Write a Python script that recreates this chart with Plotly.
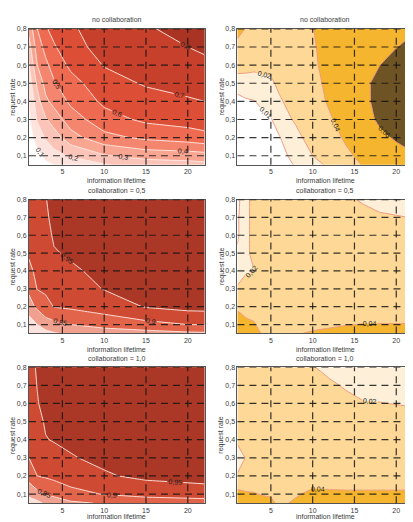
import plotly.graph_objects as go

# ---------------- data ----------------
x_left = [1, 2, 3, 4, 6, 10, 15, 20, 22]
x_right = [1, 2, 3, 4, 5, 6, 8, 10, 12, 14, 16, 18, 20, 22]
y_rate = [0.05, 0.1, 0.2, 0.3, 0.4, 0.5, 0.6, 0.7, 0.8]

x_ticks = [5, 10, 15, 20]
y_ticks = [0.1, 0.2, 0.3, 0.4, 0.5, 0.6, 0.7, 0.8]
y_ticklabels = ["0,1", "0,2", "0,3", "0,4", "0,5", "0,6", "0,7", "0,8"]

titles = ["no collaboration", "collaboration = 0,5", "collaboration = 1,0"]

# left column: one list per x (values at y_rate)
left_no_collab_cols = [
    [0.02, 0.03, 0.05, 0.075, 0.10, 0.145, 0.19, 0.26, 0.33],
    [0.04, 0.07, 0.14, 0.21, 0.26, 0.32, 0.40, 0.45, 0.50],
    [0.08, 0.12, 0.21, 0.29, 0.38, 0.435, 0.478, 0.53, 0.59],
    [0.10, 0.17, 0.25, 0.345, 0.43, 0.49, 0.54, 0.59, 0.63],
    [0.14, 0.21, 0.36, 0.45, 0.52, 0.565, 0.62, 0.66, 0.68],
    [0.19, 0.29, 0.47, 0.56, 0.62, 0.66, 0.705, 0.74, 0.77],
    [0.24, 0.34, 0.52, 0.62, 0.66, 0.71, 0.74, 0.77, 0.79],
    [0.26, 0.35, 0.55, 0.64, 0.69, 0.73, 0.765, 0.80, 0.83],
    [0.27, 0.36, 0.57, 0.65, 0.70, 0.74, 0.78, 0.815, 0.85],
]
left_collab05_cols = [
    [0.70, 0.77, 0.83, 0.86, 0.89, 0.905, 0.915, 0.925, 0.935],
    [0.75, 0.80, 0.86, 0.902, 0.91, 0.92, 0.93, 0.937, 0.944],
    [0.78, 0.83, 0.88, 0.91, 0.92, 0.93, 0.937, 0.944, 0.948],
    [0.795, 0.835, 0.902, 0.917, 0.932, 0.947, 0.955, 0.96, 0.965],
    [0.81, 0.85, 0.908, 0.926, 0.944, 0.955, 0.962, 0.967, 0.972],
    [0.82, 0.87, 0.922, 0.952, 0.96, 0.966, 0.972, 0.976, 0.98],
    [0.83, 0.885, 0.953, 0.962, 0.968, 0.973, 0.977, 0.98, 0.983],
    [0.84, 0.90, 0.965, 0.97, 0.974, 0.977, 0.98, 0.983, 0.986],
    [0.842, 0.902, 0.966, 0.971, 0.975, 0.978, 0.981, 0.984, 0.987],
]
left_collab10_cols = [
    [0.77, 0.815, 0.87, 0.90, 0.91, 0.92, 0.928, 0.935, 0.94],
    [0.785, 0.835, 0.90, 0.912, 0.925, 0.937, 0.948, 0.951, 0.953],
    [0.81, 0.85, 0.906, 0.927, 0.948, 0.955, 0.96, 0.965, 0.97],
    [0.82, 0.863, 0.912, 0.933, 0.953, 0.96, 0.965, 0.97, 0.975],
    [0.84, 0.886, 0.922, 0.947, 0.958, 0.965, 0.97, 0.975, 0.978],
    [0.855, 0.902, 0.945, 0.96, 0.966, 0.971, 0.975, 0.979, 0.982],
    [0.865, 0.918, 0.96, 0.965, 0.97, 0.975, 0.979, 0.982, 0.985],
    [0.87, 0.925, 0.965, 0.968, 0.972, 0.977, 0.981, 0.984, 0.987],
    [0.872, 0.928, 0.967, 0.969, 0.973, 0.978, 0.982, 0.985, 0.988],
]

# right column: one list per x (values at y_rate)
right_no_collab_cols = [
    [0.002, 0.003, 0.004, 0.006, 0.008, 0.013, 0.026, 0.035, 0.046],
    [0.003, 0.004, 0.005, 0.007, 0.009, 0.015, 0.024, 0.031, 0.039],
    [0.003, 0.004, 0.005, 0.007, 0.0097, 0.015, 0.023, 0.028, 0.032],
    [0.003, 0.004, 0.006, 0.008, 0.0118, 0.0169, 0.023, 0.027, 0.031],
    [0.004, 0.005, 0.007, 0.0095, 0.0133, 0.0175, 0.024, 0.028, 0.032],
    [0.005, 0.007, 0.0095, 0.0136, 0.018, 0.023, 0.027, 0.031, 0.035],
    [0.011, 0.013, 0.016, 0.022, 0.027, 0.031, 0.034, 0.036, 0.038],
    [0.016, 0.020, 0.026, 0.030, 0.033, 0.035, 0.037, 0.038, 0.0395],
    [0.022, 0.026, 0.032, 0.038, 0.042, 0.044, 0.046, 0.047, 0.048],
    [0.031, 0.036, 0.043, 0.047, 0.050, 0.052, 0.054, 0.055, 0.056],
    [0.041, 0.045, 0.050, 0.053, 0.055, 0.056, 0.056, 0.055, 0.054],
    [0.046, 0.049, 0.056, 0.063, 0.066, 0.065, 0.0598, 0.057, 0.055],
    [0.050, 0.054, 0.062, 0.070, 0.074, 0.073, 0.068, 0.0595, 0.057],
    [0.053, 0.058, 0.068, 0.076, 0.080, 0.078, 0.072, 0.065, 0.058],
]
right_collab05_cols = [
    [0.056, 0.05, 0.037, 0.021, 0.016, 0.011, 0.009, 0.009, 0.008],
    [0.05, 0.045, 0.032, 0.024, 0.019, 0.016, 0.015, 0.015, 0.015],
    [0.048, 0.042, 0.03, 0.026, 0.0198, 0.025, 0.026, 0.026, 0.026],
    [0.038, 0.031, 0.028, 0.028, 0.027, 0.028, 0.028, 0.028, 0.028],
    [0.033, 0.03, 0.029, 0.029, 0.029, 0.029, 0.029, 0.029, 0.029],
    [0.034, 0.031, 0.03, 0.03, 0.03, 0.03, 0.03, 0.03, 0.03],
    [0.038, 0.033, 0.03, 0.03, 0.03, 0.03, 0.03, 0.03, 0.029],
    [0.043, 0.033, 0.03, 0.03, 0.03, 0.03, 0.03, 0.029, 0.028],
    [0.046, 0.036, 0.031, 0.03, 0.03, 0.03, 0.029, 0.028, 0.026],
    [0.05, 0.039, 0.031, 0.03, 0.03, 0.029, 0.028, 0.027, 0.023],
    [0.052, 0.0405, 0.031, 0.03, 0.03, 0.029, 0.028, 0.026, 0.018],
    [0.053, 0.0405, 0.031, 0.03, 0.029, 0.029, 0.027, 0.022, 0.015],
    [0.053, 0.0405, 0.031, 0.03, 0.029, 0.028, 0.027, 0.021, 0.013],
    [0.053, 0.0405, 0.031, 0.03, 0.029, 0.028, 0.028, 0.0195, 0.012],
]
right_collab10_cols = [
    [0.05, 0.046, 0.022, 0.009, 0.024, 0.028, 0.028, 0.028, 0.028],
    [0.048, 0.042, 0.028, 0.021, 0.027, 0.028, 0.028, 0.028, 0.028],
    [0.047, 0.041, 0.03, 0.029, 0.029, 0.029, 0.029, 0.029, 0.029],
    [0.045, 0.039, 0.03, 0.029, 0.029, 0.029, 0.029, 0.029, 0.029],
    [0.044, 0.038, 0.03, 0.029, 0.029, 0.029, 0.029, 0.029, 0.029],
    [0.036, 0.033, 0.03, 0.029, 0.029, 0.029, 0.029, 0.029, 0.029],
    [0.043, 0.038, 0.03, 0.029, 0.029, 0.029, 0.029, 0.029, 0.028],
    [0.05, 0.044, 0.031, 0.029, 0.029, 0.029, 0.029, 0.027, 0.021],
    [0.05, 0.043, 0.031, 0.029, 0.029, 0.029, 0.028, 0.023, 0.015],
    [0.05, 0.0425, 0.031, 0.029, 0.029, 0.029, 0.025, 0.018, 0.012],
    [0.05, 0.0425, 0.031, 0.029, 0.029, 0.028, 0.021, 0.015, 0.011],
    [0.05, 0.0425, 0.031, 0.029, 0.029, 0.028, 0.0205, 0.014, 0.011],
    [0.05, 0.0425, 0.031, 0.029, 0.029, 0.028, 0.0195, 0.013, 0.011],
    [0.05, 0.0425, 0.031, 0.029, 0.029, 0.028, 0.018, 0.012, 0.011],
]

right_line_levels = [0.01, 0.02, 0.04, 0.06]

# ---------------- styling ----------------
OFF = 8                      # page body margin offset
W, H = 413 - OFF, 522 - OFF  # figure size so that it fills the window
FONT = "Liberation Sans, Arial, sans-serif"
TXT = "#3a3a3a"
FS = 7

red_l1 = ["#ffffff", "#fde3de", "#fbc4b8", "#f8a592", "#f4866f",
          "#ee6a51", "#dd4e37", "#c6402c", "#a93423"]
red_l2 = ["#fbe2dc", "#f0a08e", "#e2644b", "#cf4a33", "#ab3726"]
orange = ["#ffffff", "#fef0d8", "#fdd897", "#fdd897", "#f5b52e", "#f5b52e", "#6e5424"]


def cscale(colors):
    n = len(colors) - 1
    return [[i / n, c] for i, c in enumerate(colors)]


def transpose(cols):
    return [list(r) for r in zip(*cols)]


# target window pixel positions of each plot area
rows_px = [(25, 162), (197, 332), (366, 503)]
xtitle_px = [178, 348, 516]
cols_px = [(29, 205), (238, 413)]
x_ranges = [[1, 22], [1, 1 + (413 - 238) / 8.38]]


def py(v):
    return 1 - (v - OFF) / H


def px(v):
    return (v - OFF) / W


fig = go.Figure()
layout = dict(
    width=W, height=H, margin=dict(l=0, r=0, t=0, b=0),
    paper_bgcolor="white", plot_bgcolor="white",
    separators=",.", showlegend=False,
    font=dict(family=FONT, size=FS, color=TXT),
)
annotations = []
shapes = []

left_data = [left_no_collab_cols, left_collab05_cols, left_collab10_cols]
right_data = [right_no_collab_cols, right_collab05_cols, right_collab10_cols]

for r in range(3):
    for c in range(2):
        idx = r * 2 + c + 1
        xa = "x" if idx == 1 else f"x{idx}"
        ya = "y" if idx == 1 else f"y{idx}"
        xkey = "xaxis" if idx == 1 else f"xaxis{idx}"
        ykey = "yaxis" if idx == 1 else f"yaxis{idx}"
        top, bot = rows_px[r]
        left, right = cols_px[c]
        layout[xkey] = dict(
            domain=[max(0, px(left)), min(1, px(right))], range=x_ranges[c], anchor=ya,
            tickvals=x_ticks, ticks="", showgrid=False, zeroline=False,
            showline=True, mirror=True, linecolor="#555", linewidth=1,
            tickfont=dict(size=FS, color=TXT, family=FONT),
        )
        layout[ykey] = dict(
            domain=[py(bot), py(top)], range=[0.05, 0.8], anchor=xa,
            tickvals=y_ticks, ticktext=y_ticklabels, ticks="",
            showgrid=False, zeroline=False, showline=True, mirror=True,
            linecolor="#555", linewidth=1,
            tickfont=dict(size=FS, color=TXT, family=FONT),
        )
        if c == 0:
            zc = transpose(left_data[r])
            if r == 0:
                cont = dict(start=0.1, end=0.8, size=0.1)
                cs = cscale(red_l1)
            else:
                cont = dict(start=0.8, end=0.95, size=0.05)
                cs = cscale(red_l2)
            fig.add_trace(go.Contour(
                x=x_left, y=y_rate, z=zc, xaxis=xa, yaxis=ya,
                autocontour=False, colorscale=cs, showscale=False,
                contours=dict(coloring="fill", showlabels=True,
                              labelfont=dict(size=7, color="#222", family=FONT),
                              labelformat=".2~f", **cont),
                line=dict(color="rgba(255,236,230,0.9)", width=1, smoothing=0),
                hoverinfo="skip",
            ))
        else:
            zc = transpose(right_data[r])
            fig.add_trace(go.Contour(
                x=x_right, y=y_rate, z=zc, xaxis=xa, yaxis=ya,
                autocontour=False, colorscale=cscale(orange), showscale=False,
                contours=dict(coloring="fill", showlabels=False,
                              start=0.01, end=0.06, size=0.01),
                line=dict(width=0, smoothing=0),
                hoverinfo="skip",
            ))
            for lv in right_line_levels:
                fig.add_trace(go.Contour(
                    x=x_right, y=y_rate, z=zc, xaxis=xa, yaxis=ya,
                    autocontour=False, showscale=False,
                    contours=dict(coloring="none", showlabels=True,
                                  start=lv, end=lv, size=0.01,
                                  labelfont=dict(size=7, color="#222", family=FONT),
                                  labelformat=".2~f"),
                    line=dict(color="#ef9a80", width=1, smoothing=0),
                    hoverinfo="skip",
                ))
        # dashed grid lines above the contours
        for xv in x_ticks:
            shapes.append(dict(type="line", xref=xa, yref=f"{ya} domain",
                               x0=xv, x1=xv, y0=0, y1=1, layer="above",
                               line=dict(color="rgba(20,20,20,0.85)", width=1.2,
                                         dash="7px,5px")))
        for yv in y_ticks:
            shapes.append(dict(type="line", xref=f"{xa} domain", yref=ya,
                               x0=0, x1=1, y0=yv, y1=yv, layer="above",
                               line=dict(color="rgba(20,20,20,0.85)", width=1.2,
                                         dash="7px,5px")))
        # titles and axis titles
        cx = (left + (left + 176)) / 2
        annotations.append(dict(text=titles[r], x=px(cx), y=py(top - 9),
                                xref="paper", yref="paper", showarrow=False,
                                xanchor="center", yanchor="middle",
                                font=dict(size=FS, color=TXT, family=FONT)))
        annotations.append(dict(text="information lifetime", x=px(cx), y=py(xtitle_px[r]),
                                xref="paper", yref="paper", showarrow=False,
                                xanchor="center", yanchor="middle",
                                font=dict(size=FS, color=TXT, family=FONT)))
        annotations.append(dict(text="request rate", x=px(left - 16), y=py((top + bot) / 2),
                                xref="paper", yref="paper", showarrow=False,
                                textangle=-90, xanchor="center", yanchor="middle",
                                font=dict(size=FS, color=TXT, family=FONT)))

layout["annotations"] = annotations
layout["shapes"] = shapes
fig.update_layout(**layout)
fig.write_html("out.html")
